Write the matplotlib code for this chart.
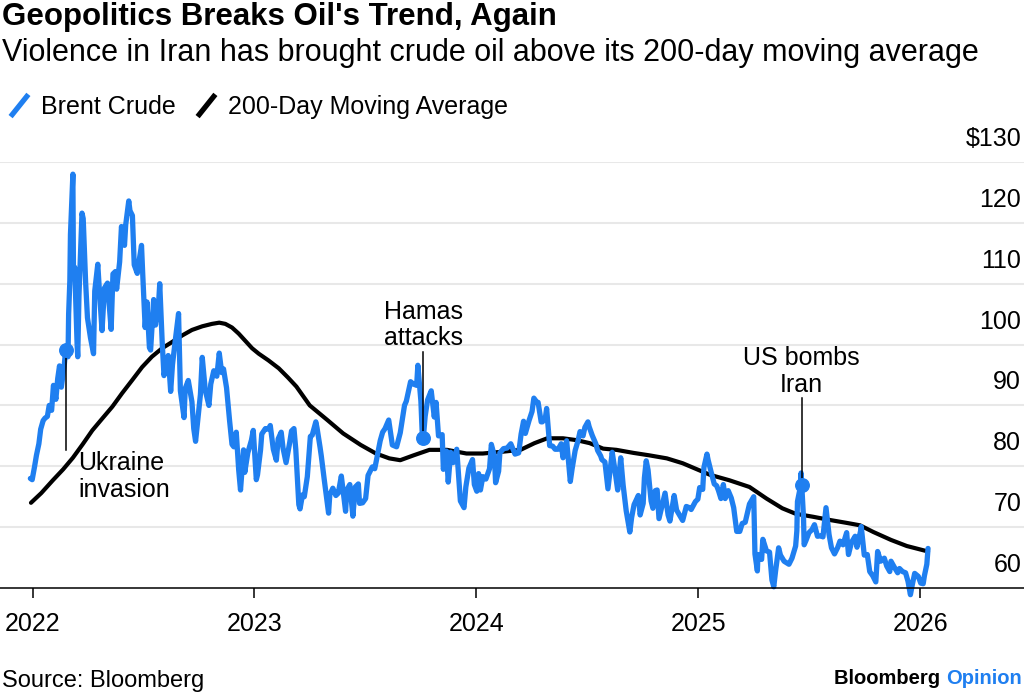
import matplotlib
matplotlib.use("Agg")
import matplotlib.pyplot as plt
import matplotlib.dates as mdates
import pandas as pd
from matplotlib.lines import Line2D

plt.rcParams['font.family'] = ['Liberation Sans', 'DejaVu Sans']

BLUE = "#1f7ff0"

# Brent crude (roughly twice a week)
brent_dates = [
    "2021-12-28", "2021-12-31", "2022-01-04", "2022-01-07", "2022-01-11", "2022-01-14",
    "2022-01-18", "2022-01-21", "2022-01-25", "2022-01-28", "2022-02-01", "2022-02-04",
    "2022-02-08", "2022-02-11", "2022-02-14", "2022-02-17", "2022-02-22", "2022-02-24",
    "2022-02-28", "2022-03-01", "2022-03-03", "2022-03-04", "2022-03-08", "2022-03-09",
    "2022-03-11", "2022-03-15", "2022-03-16", "2022-03-18", "2022-03-23", "2022-03-25",
    "2022-03-29", "2022-04-01", "2022-04-06", "2022-04-11", "2022-04-13", "2022-04-18",
    "2022-04-21", "2022-04-25", "2022-04-29", "2022-05-04", "2022-05-10", "2022-05-13",
    "2022-05-17", "2022-05-19", "2022-05-24", "2022-05-27", "2022-06-01", "2022-06-03",
    "2022-06-08", "2022-06-10", "2022-06-14", "2022-06-17", "2022-06-22", "2022-06-24",
    "2022-06-29", "2022-07-01", "2022-07-05", "2022-07-08", "2022-07-12", "2022-07-14",
    "2022-07-19", "2022-07-22", "2022-07-27", "2022-07-29", "2022-08-02", "2022-08-05",
    "2022-08-10", "2022-08-12", "2022-08-16", "2022-08-19", "2022-08-23", "2022-08-29",
    "2022-09-01", "2022-09-07", "2022-09-09", "2022-09-14", "2022-09-20", "2022-09-23",
    "2022-09-26", "2022-09-30", "2022-10-04", "2022-10-07", "2022-10-12", "2022-10-18",
    "2022-10-21", "2022-10-26", "2022-10-31", "2022-11-04", "2022-11-08", "2022-11-11",
    "2022-11-16", "2022-11-21", "2022-11-25", "2022-11-28", "2022-12-02", "2022-12-06",
    "2022-12-09", "2022-12-14", "2022-12-16", "2022-12-21", "2022-12-27", "2022-12-30",
    "2023-01-04", "2023-01-06", "2023-01-11", "2023-01-13", "2023-01-19", "2023-01-24",
    "2023-01-27", "2023-02-01", "2023-02-06", "2023-02-09", "2023-02-14", "2023-02-17",
    "2023-02-22", "2023-02-28", "2023-03-03", "2023-03-07", "2023-03-10", "2023-03-15",
    "2023-03-17", "2023-03-21", "2023-03-24", "2023-03-29", "2023-04-03", "2023-04-06",
    "2023-04-12", "2023-04-14", "2023-04-19", "2023-04-21", "2023-04-26", "2023-05-03",
    "2023-05-05", "2023-05-10", "2023-05-15", "2023-05-19", "2023-05-24", "2023-05-31",
    "2023-06-02", "2023-06-07", "2023-06-12", "2023-06-16", "2023-06-21", "2023-06-23",
    "2023-06-28", "2023-07-03", "2023-07-07", "2023-07-14", "2023-07-18", "2023-07-21",
    "2023-07-27", "2023-07-31", "2023-08-04", "2023-08-10", "2023-08-16", "2023-08-23",
    "2023-08-29", "2023-09-05", "2023-09-08", "2023-09-15", "2023-09-20", "2023-09-25",
    "2023-09-27", "2023-10-02", "2023-10-04", "2023-10-06", "2023-10-09", "2023-10-13",
    "2023-10-19", "2023-10-24", "2023-10-27", "2023-10-31", "2023-11-06", "2023-11-08",
    "2023-11-13", "2023-11-16", "2023-11-20", "2023-11-24", "2023-11-30", "2023-12-06",
    "2023-12-12", "2023-12-15", "2023-12-20", "2023-12-26", "2023-12-29",
    "2024-01-02", "2024-01-05", "2024-01-08", "2024-01-12", "2024-01-17", "2024-01-23",
    "2024-01-26", "2024-01-31", "2024-02-02", "2024-02-07", "2024-02-09", "2024-02-15",
    "2024-02-21", "2024-02-27", "2024-03-05", "2024-03-11", "2024-03-15", "2024-03-19",
    "2024-03-22", "2024-03-28", "2024-04-02", "2024-04-05", "2024-04-10", "2024-04-12",
    "2024-04-17", "2024-04-19", "2024-04-24", "2024-04-26", "2024-05-01", "2024-05-06",
    "2024-05-10", "2024-05-15", "2024-05-20", "2024-05-23", "2024-05-29", "2024-06-04",
    "2024-06-07", "2024-06-12", "2024-06-17", "2024-06-20", "2024-06-25", "2024-06-28",
    "2024-07-03", "2024-07-05", "2024-07-10", "2024-07-16", "2024-07-19", "2024-07-24",
    "2024-07-26", "2024-07-31", "2024-08-05", "2024-08-09", "2024-08-12", "2024-08-16",
    "2024-08-21", "2024-08-26", "2024-08-30", "2024-09-04", "2024-09-10", "2024-09-13",
    "2024-09-17", "2024-09-24", "2024-09-27", "2024-10-02", "2024-10-04", "2024-10-07",
    "2024-10-10", "2024-10-15", "2024-10-18", "2024-10-22", "2024-10-25", "2024-10-28",
    "2024-11-01", "2024-11-07", "2024-11-12", "2024-11-15", "2024-11-22", "2024-11-26",
    "2024-12-02", "2024-12-06", "2024-12-12", "2024-12-17", "2024-12-20", "2024-12-27",
    "2024-12-31",
    "2025-01-03", "2025-01-08", "2025-01-10", "2025-01-15", "2025-01-17", "2025-01-22",
    "2025-01-27", "2025-01-31", "2025-02-03", "2025-02-07", "2025-02-11", "2025-02-14",
    "2025-02-19", "2025-02-24", "2025-02-28", "2025-03-05", "2025-03-10", "2025-03-14",
    "2025-03-19", "2025-03-26", "2025-04-02", "2025-04-04", "2025-04-08", "2025-04-09",
    "2025-04-15", "2025-04-17", "2025-04-23", "2025-04-28", "2025-05-02", "2025-05-05",
    "2025-05-08", "2025-05-13", "2025-05-16", "2025-05-22", "2025-05-27", "2025-05-30",
    "2025-06-04", "2025-06-10", "2025-06-12", "2025-06-13", "2025-06-18", "2025-06-19",
    "2025-06-20", "2025-06-23", "2025-06-24", "2025-06-27", "2025-07-02", "2025-07-07",
    "2025-07-11", "2025-07-16", "2025-07-22", "2025-07-25", "2025-07-30", "2025-08-04",
    "2025-08-08", "2025-08-13", "2025-08-18", "2025-08-22", "2025-08-27", "2025-09-02",
    "2025-09-05", "2025-09-10", "2025-09-16", "2025-09-19", "2025-09-25", "2025-09-26",
    "2025-10-01", "2025-10-06", "2025-10-10", "2025-10-15", "2025-10-20", "2025-10-23",
    "2025-10-28", "2025-11-03", "2025-11-07", "2025-11-12", "2025-11-14", "2025-11-19",
    "2025-11-25", "2025-11-28", "2025-12-03", "2025-12-08", "2025-12-12", "2025-12-16",
    "2025-12-19", "2025-12-23", "2025-12-29", "2026-01-02", "2026-01-06", "2026-01-08",
    "2026-01-12", "2026-01-14",
]
brent_values = [
    78.0, 77.8, 80.0, 81.8, 83.7, 86.1,
    87.5, 87.9, 88.2, 90.0, 89.2, 93.3,
    91.0, 94.4, 96.5, 93.0, 96.8, 99.1,
    98.0, 105.0, 110.5, 118.1, 128.0, 111.1,
    112.7, 99.9, 98.0, 108.0, 121.6, 120.7,
    110.2, 104.4, 101.1, 98.5, 108.8, 113.2,
    108.3, 102.3, 109.3, 110.1, 102.5, 111.6,
    112.0, 109.1, 113.6, 119.4, 116.3, 119.7,
    123.6, 122.0, 121.2, 113.1, 111.7, 113.1,
    116.3, 111.6, 102.8, 107.0, 99.5, 99.1,
    107.4, 103.2, 106.6, 110.0, 100.5, 94.9,
    97.4, 98.2, 92.3, 96.7, 100.2, 105.1,
    92.4, 88.0, 92.8, 94.1, 90.6, 86.2,
    84.1, 88.0, 91.8, 97.9, 92.5, 90.0,
    93.5, 95.7, 94.8, 98.6, 95.4, 96.0,
    92.9, 87.5, 83.6, 83.2, 85.6, 79.4,
    76.1, 82.7, 79.0, 82.2, 84.3, 85.9,
    77.8, 78.6, 82.7, 85.3, 86.2, 86.1,
    86.7, 82.8, 81.0, 84.5, 85.6, 83.0,
    80.6, 83.9, 85.8, 86.2, 82.8, 73.7,
    73.0, 75.3, 75.0, 78.3, 84.9, 85.1,
    87.3, 86.3, 83.1, 81.7, 77.7, 72.3,
    75.3, 76.4, 75.2, 75.6, 78.4, 72.6,
    76.1, 77.0, 71.8, 76.6, 77.1, 73.9,
    74.0, 74.7, 78.5, 79.9, 79.6, 81.1,
    84.2, 85.6, 86.2, 87.6, 83.5, 83.2,
    85.5, 90.0, 90.7, 93.9, 93.5, 93.3,
    96.6, 90.7, 85.8, 84.6, 88.2, 90.9,
    92.4, 88.1, 90.5, 85.0, 85.2, 79.5,
    82.5, 77.4, 82.3, 80.6, 82.8, 74.3,
    73.2, 76.6, 79.7, 81.1, 77.0,
    75.9, 78.8, 76.1, 78.3, 77.9, 79.6,
    83.6, 81.7, 77.3, 79.2, 82.2, 82.9,
    83.0, 83.7, 82.0, 82.2, 85.3, 87.4,
    85.4, 87.5, 89.0, 91.2, 90.5, 90.5,
    87.3, 87.3, 88.0, 89.5, 83.4, 83.3,
    82.8, 82.8, 83.7, 81.4, 84.2, 77.5,
    79.6, 82.6, 84.3, 85.7, 85.0, 86.4,
    87.3, 86.5, 85.1, 83.7, 82.6, 81.7,
    81.1, 80.7, 76.3, 79.7, 82.3, 79.7,
    76.1, 81.4, 76.9, 72.7, 69.2, 71.6,
    73.7, 75.2, 72.0, 73.9, 78.1, 80.9,
    79.4, 74.3, 73.1, 76.0, 76.1, 71.4,
    73.1, 75.6, 72.0, 71.0, 75.2, 72.8,
    71.8, 71.1, 73.4, 73.2, 72.9, 74.2,
    74.6,
    76.5, 76.2, 79.8, 82.0, 81.0, 79.0,
    77.1, 76.8, 76.0, 74.7, 77.0, 74.7,
    76.0, 74.8, 73.2, 69.3, 69.3, 70.6,
    70.8, 73.8, 75.0, 65.6, 62.8, 65.5,
    64.7, 68.0, 66.1, 65.9, 61.3, 60.2,
    62.8, 66.6, 65.4, 64.4, 64.1, 63.9,
    64.9, 66.9, 69.4, 74.2, 76.7, 78.9,
    77.0, 71.5, 67.1, 67.8, 69.1, 69.6,
    70.4, 68.5, 68.6, 68.4, 73.2, 68.8,
    66.6, 65.6, 66.6, 67.7, 67.1, 69.1,
    65.5, 67.5, 68.5, 66.7, 69.4, 70.1,
    65.4, 65.5, 62.7, 62.0, 61.0, 66.0,
    64.4, 64.9, 63.6, 62.7, 64.4, 63.5,
    62.5, 63.2, 62.7, 62.5, 61.1, 58.9,
    60.5, 62.4, 61.9, 60.8, 60.7, 62.0,
    63.9, 66.5,
]

# 200-day moving average
ma_dates = [
    "2021-12-29", "2022-01-15", "2022-02-03", "2022-02-20", "2022-03-08", "2022-03-24",
    "2022-04-09", "2022-04-25", "2022-05-12", "2022-05-28", "2022-06-14", "2022-06-30",
    "2022-07-16", "2022-08-02", "2022-08-18", "2022-09-04", "2022-09-20", "2022-10-07",
    "2022-10-23", "2022-11-04", "2022-11-14", "2022-11-25", "2022-12-06", "2022-12-17",
    "2022-12-28", "2023-01-08", "2023-01-24", "2023-02-10", "2023-02-25", "2023-03-11",
    "2023-04-02", "2023-05-01", "2023-05-27", "2023-06-25", "2023-07-20", "2023-08-11",
    "2023-08-29", "2023-09-20", "2023-10-16", "2023-11-14", "2023-12-16", "2024-01-12",
    "2024-02-14", "2024-03-14", "2024-04-06", "2024-04-27", "2024-05-23", "2024-06-14",
    "2024-07-06", "2024-07-28", "2024-08-19", "2024-09-16", "2024-10-12", "2024-11-10",
    "2024-12-06", "2025-01-01", "2025-01-20", "2025-02-21", "2025-03-26", "2025-04-23",
    "2025-05-19", "2025-06-10", "2025-07-09", "2025-08-04", "2025-09-02", "2025-09-24",
    "2025-10-16", "2025-11-14", "2025-12-10", "2026-01-14",
]
ma_values = [
    74.0, 75.6, 77.7, 79.5, 81.4, 83.6,
    85.9, 87.8, 89.8, 92.0, 94.2, 96.3,
    98.0, 99.4, 100.4, 101.5, 102.4, 103.0,
    103.4, 103.6, 103.4, 102.8, 101.8, 100.6,
    99.4, 98.5, 97.4, 96.1, 94.6, 93.1,
    90.0, 87.6, 85.4, 83.5, 82.1, 81.3,
    81.0, 81.8, 82.7, 82.7, 82.1, 82.1,
    82.4, 82.7, 83.8, 84.6, 84.6, 84.3,
    83.8, 82.9, 82.7, 82.2, 81.8, 81.3,
    80.5, 79.4, 78.6, 77.7, 76.6, 74.7,
    73.1, 72.2, 71.7, 71.2, 70.7, 70.3,
    69.2, 67.9, 66.9, 66.0,
]

event_labels = ["Ukraine\ninvasion", "Hamas\nattacks", "US bombs\nIran"]
event_dates = ["2022-02-24", "2023-10-06", "2025-06-20"]
# value where each leader line ends
event_line_ends = [82.7, 98.8, 91.2]

y_ticks = [60, 70, 80, 90, 100, 110, 120, 130]
x_years = [2022, 2023, 2024, 2025, 2026]

brent = pd.Series(brent_values, index=pd.to_datetime(brent_dates))
ma = pd.Series(ma_values, index=pd.to_datetime(ma_dates))

fig = plt.figure(figsize=(10.24, 6.95), dpi=100)
ax = fig.add_axes([0.0, 1 - 588 / 695, 1.0, 426 / 695])

for v in y_ticks[1:]:
    ax.axhline(v, color="#e8e8e8", lw=1.5, zorder=0)

ax.plot(ma.index, ma.values, color="black", lw=3.0, solid_capstyle="round",
        solid_joinstyle="round", clip_on=False, zorder=3)
ax.plot(brent.index, brent.values, color=BLUE, lw=3.8, solid_joinstyle="round",
        solid_capstyle="round", clip_on=False, zorder=4)

for label, d, top in zip(event_labels, event_dates, event_line_ends):
    d = pd.Timestamp(d)
    v = brent[d]
    ax.plot([d, d], [v, top], color="black", lw=1.1, zorder=5)
    ax.scatter([d], [v], s=95, color=BLUE, zorder=6, clip_on=False)
    if top < v:
        ax.annotate(label, xy=(d, top), xytext=(9, -1), textcoords="offset points",
                    ha="left", va="top", fontsize=18, linespacing=1.15)
    else:
        ax.annotate(label, xy=(d, top), xytext=(0, 1), textcoords="offset points",
                    ha="center", va="bottom", fontsize=18, linespacing=1.12,
                    multialignment="center")

ax.set_ylim(60, 130)
ax.set_xlim(pd.Timestamp("2021-11-08"), pd.Timestamp("2026-06-21"))
ax.set_yticks([])
ax.set_xticks([pd.Timestamp(f"{y}-01-01") for y in x_years])
ax.xaxis.set_major_formatter(mdates.DateFormatter("%Y"))
ax.tick_params(axis="x", length=7, width=1.1, color="black", labelsize=18, pad=10)
for s in ["left", "right", "top"]:
    ax.spines[s].set_visible(False)
ax.spines["bottom"].set_linewidth(1.1)
ax.spines["bottom"].set_zorder(7)

for v in y_ticks:
    txt = f"${v}" if v == y_ticks[-1] else f"{v}"
    ax.annotate(txt, xy=(1.0, v), xycoords=ax.get_yaxis_transform(),
                xytext=(-2, 11.5), textcoords="offset points",
                ha="right", va="baseline", fontsize=18)

fig.text(0.002, 1 - 2 / 695, "Geopolitics Breaks Oil's Trend, Again",
         fontsize=22.5, fontweight="bold", va="top")
fig.text(0.002, 1 - 38 / 695,
         "Violence in Iran has brought crude oil above its 200-day moving average",
         fontsize=22, va="top")

slash = [(-0.8, -1.0), (0.8, 1.0)]
handles = [
    Line2D([], [], color=BLUE, marker=slash, markersize=16, markeredgewidth=3.8,
           linestyle="None"),
    Line2D([], [], color="black", marker=slash, markersize=16, markeredgewidth=3.8,
           linestyle="None"),
]
fig.legend(handles, ["Brent Crude", "200-Day Moving Average"], loc="center left",
           bbox_to_anchor=(-0.016, 1 - 107 / 695), ncol=2, frameon=False,
           fontsize=18, handlelength=1.0, handletextpad=0.4, columnspacing=0.7)

fig.text(0.002, 1 - 681 / 695, "Source: Bloomberg", fontsize=17, va="center")
op = fig.text(0.998, 1 - 678 / 695, "Opinion", fontsize=14.5, fontweight="bold",
              color=BLUE, va="center", ha="right")
ax.annotate("Bloomberg ", xy=(0, 0.5), xycoords=op, ha="right", va="center",
            fontsize=14.5, fontweight="bold", color="black", annotation_clip=False)

fig.savefig("out.png", dpi=100)
